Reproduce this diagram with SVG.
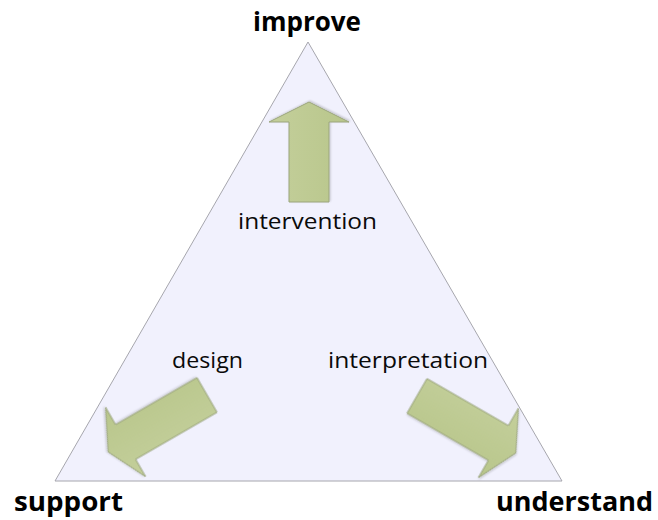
<svg xmlns="http://www.w3.org/2000/svg" width="658" height="520" viewBox="0 0 658 520">
<defs>
<linearGradient id="g" gradientUnits="userSpaceOnUse" x1="0" y1="-40" x2="0" y2="40">
<stop offset="0" stop-color="#c4cf9b"/>
<stop offset="1" stop-color="#b8c68b"/>
</linearGradient>
<filter id="sh" x="-20%" y="-20%" width="140%" height="140%">
<feGaussianBlur in="SourceAlpha" stdDeviation="1"/>
<feOffset dx="1" dy="1" result="b"/>
<feComponentTransfer><feFuncA type="linear" slope="0.2"/></feComponentTransfer>
<feMerge><feMergeNode/><feMergeNode in="SourceGraphic"/></feMerge>
</filter>
<polygon id="arrow" points="0,-20 94,-20 94,-40 114,0 94,40 94,20 0,20"/>
<polygon id="arrowShort" points="0,-20 80,-20 80,-40 100,0 80,40 80,20 0,20"/>
</defs>
<style>
.big{font-family:"Open Sans","Liberation Sans",sans-serif;font-weight:bold;font-size:27px;fill:#000}
.lbl{font-family:"Open Sans","Liberation Sans",sans-serif;font-size:22px;fill:#0a0a0a}
.arr{fill:url(#g);stroke:#9ba57c;stroke-width:1;filter:url(#sh)}
</style>
<rect width="658" height="520" fill="#fff"/>
<g id="triangle">
<polygon points="308,42 55,481 562,481" fill="#f1f1fd" stroke="#a6a6ad" stroke-width="1"/>
</g>
<g id="connectors">
<use href="#arrowShort" class="arr" transform="translate(309,202) rotate(-90)"/>
<use href="#arrow" class="arr" transform="translate(207,395) rotate(150)"/>
<use href="#arrow" class="arr" transform="translate(417,396) rotate(30)"/>
</g>
<g id="improve"><text class="big" x="307" y="31" text-anchor="middle" textLength="108" lengthAdjust="spacingAndGlyphs">improve</text></g>
<g id="support"><text class="big" x="14" y="511" textLength="109" lengthAdjust="spacingAndGlyphs">support</text></g>
<g id="understand"><text class="big" x="496" y="511" textLength="157" lengthAdjust="spacingAndGlyphs">understand</text></g>
<g id="intervention"><text class="lbl" x="238" y="229" textLength="139" lengthAdjust="spacingAndGlyphs">intervention</text></g>
<g id="design"><text class="lbl" x="172" y="368" textLength="71" lengthAdjust="spacingAndGlyphs">design</text></g>
<g id="interpretation"><text class="lbl" x="328" y="368" textLength="160" lengthAdjust="spacingAndGlyphs">interpretation</text></g>
</svg>
